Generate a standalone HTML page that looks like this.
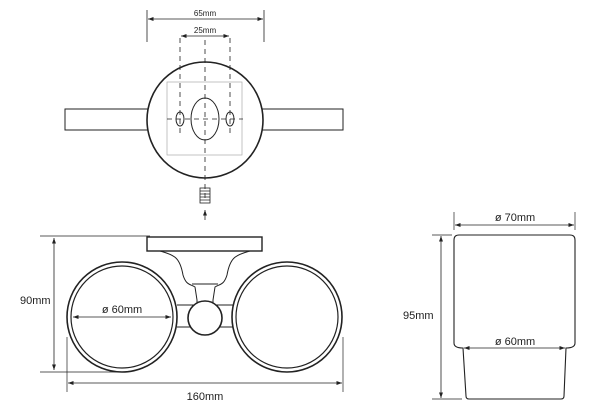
<!DOCTYPE html>
<html><head><style>html,body{margin:0;padding:0;background:#fff}svg{display:block}text{font-family:"Liberation Sans",sans-serif;fill:#222}</style></head><body>
<svg width="602" height="413" viewBox="0 0 602 413" xmlns="http://www.w3.org/2000/svg">
<defs><marker id="a" markerWidth="8" markerHeight="8" refX="7" refY="4" orient="auto-start-reverse"><path d="M0,1.5 L7,4 L0,6.5z" fill="#222"/></marker></defs>
<g stroke="#222" fill="none">
<!-- top view -->
<rect x="65" y="109" width="278" height="21" fill="#fff" stroke-width="1"/>
<circle cx="205" cy="120" r="58" fill="#fff" stroke-width="1.6"/>
<rect x="167" y="82" width="75" height="73" stroke="#aaa" stroke-width="0.7"/>
<ellipse cx="205" cy="119" rx="14" ry="21" stroke-width="1"/>
<ellipse cx="180" cy="119" rx="4" ry="7" stroke-width="1"/>
<ellipse cx="230" cy="119" rx="4" ry="7" stroke-width="1"/>
<g stroke-dasharray="5,4" stroke-width="0.8">
<line x1="180" y1="38" x2="180" y2="137"/><line x1="230" y1="38" x2="230" y2="137"/>
<line x1="205" y1="40" x2="205" y2="200"/><line x1="167" y1="119" x2="243" y2="119"/>
</g>
<line x1="147" y1="10" x2="147" y2="42" stroke-width="0.8"/><line x1="264" y1="10" x2="264" y2="42" stroke-width="0.8"/>
<line x1="148" y1="19" x2="263" y2="19" stroke-width="0.8" marker-start="url(#a)" marker-end="url(#a)"/>
<line x1="181" y1="36" x2="229" y2="36" stroke-width="0.8" marker-start="url(#a)" marker-end="url(#a)"/>
<rect x="200" y="188" width="10" height="15" stroke-width="0.8"/>
<path d="M200,191h10M200,194h10M200,197h10M200,200h10" stroke-width="0.8"/>
<line x1="205" y1="220" x2="205" y2="210" stroke-width="0.8" marker-end="url(#a)"/>
<!-- front view -->
<line x1="40" y1="236" x2="150" y2="236" stroke-width="0.7"/>
<line x1="40" y1="372" x2="120" y2="372" stroke-width="0.7"/>
<line x1="54" y1="238" x2="54" y2="370" stroke-width="0.8" marker-start="url(#a)" marker-end="url(#a)"/>
<path d="M160,251 C175,255 180,258 183,275 C186,285 190,284 195,287 L197,300 L197,305 M250,251 C235,255 230,258 227,275 C224,285 220,284 215,287 L213,300 L213,305" stroke-width="1"/>
<line x1="192" y1="284" x2="218" y2="284" stroke-width="1"/>
<line x1="177" y1="305" x2="233" y2="305" stroke-width="1"/>
<line x1="177" y1="327" x2="233" y2="327" stroke-width="1"/>
<circle cx="122" cy="317" r="55" fill="#fff" stroke-width="1.6"/>
<circle cx="122" cy="317" r="51" stroke-width="1.2"/>
<circle cx="287" cy="317" r="55" fill="#fff" stroke-width="1.6"/>
<circle cx="287" cy="317" r="51" stroke-width="1.2"/>
<circle cx="205" cy="318" r="17" fill="#fff" stroke-width="1.6"/>
<rect x="147" y="237" width="115" height="14" fill="#fff" stroke-width="1.4"/>
<line x1="73" y1="317" x2="171" y2="317" stroke-width="0.8" marker-start="url(#a)" marker-end="url(#a)"/>
<line x1="67" y1="337" x2="67" y2="392" stroke-width="0.7"/><line x1="343" y1="337" x2="343" y2="392" stroke-width="0.7"/>
<line x1="68" y1="383" x2="342" y2="383" stroke-width="0.8" marker-start="url(#a)" marker-end="url(#a)"/>
<!-- cup -->
<path d="M459,235 H570 Q575,235 575,240 V343 Q575,348 566,348 L564,396 Q564,399 561,399 H469 Q466,399 466,396 L463,348 Q454,348 454,343 V240 Q454,235 459,235 Z" stroke-width="1.1"/>
<line x1="454" y1="212" x2="454" y2="230" stroke-width="0.7"/><line x1="575" y1="212" x2="575" y2="230" stroke-width="0.7"/>
<line x1="455" y1="225" x2="574" y2="225" stroke-width="0.8" marker-start="url(#a)" marker-end="url(#a)"/>
<line x1="464" y1="348" x2="565" y2="348" stroke-width="0.8" marker-start="url(#a)" marker-end="url(#a)"/>
<line x1="432" y1="235" x2="452" y2="235" stroke-width="0.7"/><line x1="432" y1="399" x2="462" y2="399" stroke-width="0.7"/>
<line x1="441" y1="236" x2="441" y2="398" stroke-width="0.8" marker-start="url(#a)" marker-end="url(#a)"/>
</g>
<text x="205" y="16" font-size="8" text-anchor="middle">65mm</text>
<text x="205" y="33" font-size="8" text-anchor="middle">25mm</text>
<text x="20" y="304" font-size="11">90mm</text>
<text x="122" y="313" font-size="11" text-anchor="middle">ø 60mm</text>
<text x="205" y="400" font-size="11" text-anchor="middle">160mm</text>
<text x="515" y="221" font-size="11" text-anchor="middle">ø 70mm</text>
<text x="403" y="319" font-size="11">95mm</text>
<text x="515" y="345" font-size="11" text-anchor="middle">ø 60mm</text>
</svg>
</body></html>
